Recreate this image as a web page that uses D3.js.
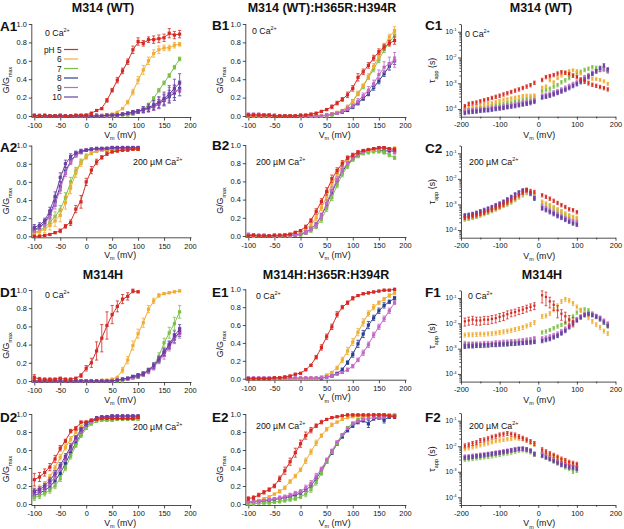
<!DOCTYPE html>
<html><head><meta charset="utf-8">
<script src="https://cdn.jsdelivr.net/npm/d3@7"></script>
<style>body{margin:0;background:#fff}svg{display:block}text{font-family:Arial,"Liberation Sans",Helvetica,sans-serif;fill:#111}</style>
</head><body><svg id="c" width="624" height="529"></svg>
<script>
// ---------- categories / labels ----------
const PH_LABELS = ["pH 5","6","7","8","9","10"];
const COLORS = ["#d42a23","#f0ad32","#7bbf46","#2b3f93","#c566c6","#6b3fa3"];
const GV_TICKS_X = [-100,-50,0,50,100,150,200];
const GV_TICKS_Y = [0,0.2,0.4,0.6,0.8,1.0];
const TAU_TICKS_X = [-200,-100,0,100,200];
const TAU_TICKS_Y = [1e-4,1e-3,1e-2,1e-1];
const TAU_TICK_EXP = ["-4","-3","-2","-1"];
const TITLES = ["M314 (WT)","M314 (WT):H365R:H394R","M314 (WT)","M314H","M314H:H365R:H394R","M314H"];
// voltage grids (mV)
const vLong = d3.range(-100,181,10);   // 29 steps
const vShort = d3.range(-100,101,10);  // 21 steps
const tLong = d3.range(-190,0,10).concat(d3.range(10,181,10));  // 37
const tShort = d3.range(-190,0,10).concat(d3.range(10,101,10)); // 29

// ---------- G/Gmax data, series order pH 5,6,7,8,9,10 ----------
const gvA1 = [
 [0,0,.01,0,0,.01,0,0,.01,.01,.01,.03,.06,.08,.17,.28,.39,.49,.59,.72,.81,.79,.83,.83,.84,.85,.90,.88,.89],
 [0,0,0,0,0,0,0,0,0,0,0,0,0,.01,.01,.02,.04,.08,.15,.26,.39,.50,.60,.68,.72,.74,.74,.77,.78],
 [0,0,0,0,0,0,0,0,0,0,0,0,0,0,0,0,0,.01,.01,.02,.04,.07,.12,.19,.28,.36,.44,.53,.62],
 [0,0,0,0,0,0,0,0,0,0,0,0,.01,0,.01,.01,.01,.02,.03,.04,.05,.07,.08,.10,.13,.17,.21,.25,.30],
 [0,.01,0,0,0,0,0,0,0,0,0,0,0,0,0,.01,.01,.02,.03,.04,.05,.06,.08,.11,.14,.18,.24,.27,.28],
 [.01,0,0,0,0,0,0,0,0,0,0,0,0,0,.01,.01,.01,.02,.03,.04,.05,.07,.09,.12,.15,.19,.24,.30,.36]];
const errA1 = [
 [0,0,0,0,0,0,0,0,0,0,.01,.01,.01,.01,.02,.02,.03,.03,.03,.04,.04,.03,.03,.04,.04,.04,.05,.04,.04],
 [0,0,0,0,0,0,0,0,0,0,0,0,0,0,0,.01,.01,.01,.02,.03,.04,.05,.04,.04,.04,.03,.03,.03,.02],
 [0,0,0,0,0,0,0,0,0,0,0,0,0,0,0,0,0,0,0,.01,.01,.01,.02,.02,.02,.02,.02,.02,.02],
 [0,0,0,0,0,0,0,0,0,0,0,0,0,0,0,0,.01,.01,.01,.02,.02,.03,.03,.04,.05,.06,.07,.08,.08],
 [0,0,0,0,0,0,0,0,0,0,0,0,0,0,0,0,.01,.01,.01,.02,.02,.03,.04,.05,.06,.06,.07,.07,.06],
 [0,0,0,0,0,0,0,0,0,0,0,0,0,0,0,0,.01,.01,.01,.02,.02,.03,.04,.05,.06,.07,.09,.10,.10]];
const gvA2 = [
 [0,0,.01,.02,.04,.06,.11,.15,.30,.38,.60,.73,.82,.87,.91,.93,.94,.95,.95,.96,.96],
 [.03,.05,.08,.12,.17,.23,.37,.53,.70,.81,.88,.92,.94,.95,.95,.96,.96,.96,.96,.96,.96],
 [.04,.06,.10,.15,.22,.29,.43,.60,.72,.82,.88,.92,.94,.95,.95,.95,.95,.95,.96,.96,.96],
 [.07,.10,.15,.24,.38,.55,.72,.83,.90,.93,.95,.96,.96,.96,.96,.97,.97,.97,.97,.97,.97],
 [.06,.09,.14,.22,.35,.52,.70,.82,.89,.93,.95,.96,.96,.96,.97,.97,.97,.97,.97,.97,.97],
 [.10,.12,.17,.28,.44,.65,.80,.88,.92,.94,.95,.96,.97,.97,.97,.98,.98,.98,.98,.98,.98]];
const errA2 = [
 [.01,.01,.01,.01,.01,.02,.02,.03,.04,.07,.04,.04,.03,.02,.02,.01,.01,.01,.01,.01,.01],
 [.02,.03,.04,.05,.06,.07,.07,.06,.05,.04,.03,.02,.01,.01,.01,.01,.01,.01,.01,.01,.01],
 [.02,.02,.03,.04,.05,.05,.05,.05,.04,.03,.02,.02,.01,.01,.01,.01,.01,.01,.01,.01,.01],
 [.02,.02,.03,.04,.05,.05,.04,.03,.02,.02,.01,.01,.01,.01,.01,.01,.01,.01,.01,.01,.01],
 [.02,.02,.03,.04,.05,.05,.04,.03,.02,.02,.01,.01,.01,.01,.01,.01,.01,.01,.01,.01,.01],
 [.03,.03,.03,.04,.05,.05,.04,.03,.02,.02,.01,.01,.01,.01,.01,.01,.01,.01,.01,.01,.01]];
const gvB1 = [
 [.01,.01,.01,.01,.01,0,0,0,0,0,.01,.01,.02,.03,.05,.07,.10,.14,.18,.23,.30,.42,.48,.55,.63,.70,.75,.79,.82],
 [0,0,0,0,0,0,0,0,0,0,0,0,0,0,0,.01,.02,.04,.06,.10,.16,.25,.33,.43,.54,.65,.76,.86,.93],
 [0,0,0,0,0,0,0,0,0,0,0,0,0,0,0,0,.01,.03,.05,.09,.16,.24,.32,.42,.51,.61,.72,.80,.88],
 [0,0,0,0,0,0,0,0,0,0,0,0,0,0,0,.01,.02,.03,.04,.06,.10,.14,.19,.24,.31,.38,.46,.54,.60],
 [.02,.02,.02,.01,.01,.01,0,0,0,0,0,0,0,0,0,.01,.02,.03,.05,.08,.11,.16,.22,.28,.35,.45,.53,.57,.61],
 null];
const errB1 = [
 [.01,.01,.01,.01,.01,.01,.01,.01,.01,.01,.01,.01,.01,.01,.01,.01,.02,.02,.02,.03,.03,.04,.03,.03,.03,.03,.03,.03,.04],
 [0,0,0,0,0,0,0,0,0,0,0,0,0,0,0,.01,.01,.01,.01,.02,.02,.02,.02,.03,.03,.03,.03,.03,.04],
 [0,0,0,0,0,0,0,0,0,0,0,0,0,0,0,0,.01,.01,.01,.02,.02,.02,.02,.02,.03,.03,.03,.03,.03],
 [0,0,0,0,0,0,0,0,0,0,0,0,0,0,0,.01,.01,.01,.01,.01,.02,.02,.02,.02,.03,.03,.03,.04,.04],
 [.01,.01,.01,.01,.01,.01,0,0,0,0,0,0,0,0,0,.01,.01,.01,.02,.02,.02,.03,.03,.04,.04,.05,.06,.07,.08],
 null];
const gvB2 = [
 [0,.01,0,0,0,.01,.01,.01,.02,.04,.06,.10,.17,.27,.38,.49,.63,.72,.80,.86,.89,.92,.94,.95,.96,.97,.97,.96,.95],
 [0,0,0,0,0,0,0,.01,.01,.02,.04,.07,.12,.20,.31,.43,.57,.68,.78,.84,.88,.91,.93,.94,.95,.96,.97,.96,.96],
 [0,0,0,0,0,0,0,0,0,.01,.01,.03,.06,.10,.18,.30,.42,.56,.68,.77,.84,.88,.91,.92,.93,.93,.92,.89,.86],
 [0,0,0,0,0,0,0,0,.01,.01,.02,.04,.08,.13,.22,.34,.48,.60,.71,.79,.85,.89,.92,.94,.95,.95,.93,.94,.93],
 [.02,.01,.01,.01,0,0,0,.01,.01,.01,.02,.04,.08,.12,.22,.36,.50,.62,.73,.80,.86,.90,.93,.95,.96,.97,.97,.95,.92],
 null];
const errB2a = [.01,.01,.01,.01,.01,.01,.01,.01,.01,.01,.01,.02,.02,.03,.03,.04,.04,.03,.03,.02,.02,.02,.01,.01,.01,.01,.01,.01,.02];
const errB2b = [.01,.01,.01,.01,.01,.01,.01,.01,.01,.01,.01,.01,.02,.02,.03,.03,.03,.03,.03,.03,.02,.02,.02,.02,.02,.02,.02,.02,.02];
const errB2 = [errB2a,errB2a,errB2b,errB2b,errB2a,null];
const gvD1 = [
 [.04,.02,.02,.02,.02,.03,.02,.02,.03,.06,.14,.20,.33,.47,.61,.73,.82,.90,.93,.99,.98,null,null,null,null,null,null,null,null],
 [0,0,0,0,0,0,0,0,0,0,0,0,0,.01,.01,.02,.04,.12,.23,.39,.52,.64,.79,.88,.94,.96,.97,.98,.99],
 [0,0,0,0,0,0,0,0,0,0,0,0,0,0,0,0,0,0,.02,.03,.04,.07,.12,.17,.27,.42,.53,.63,.76],
 [0,0,0,0,0,0,0,0,0,0,0,0,0,0,0,0,.01,.02,.03,.05,.06,.08,.11,.16,.23,.31,.39,.47,.54],
 [0,0,0,0,0,0,0,0,0,0,0,0,0,0,0,0,.01,.02,.02,.04,.05,.07,.10,.15,.22,.28,.37,.46,.52],
 [0,0,0,0,0,0,0,0,0,0,0,0,0,0,0,0,.01,.02,.03,.05,.06,.08,.12,.17,.24,.32,.40,.50,.57]];
const errD1b = [0,0,0,0,0,0,0,0,0,0,0,0,0,0,0,0,.01,.01,.01,.01,.02,.02,.02,.03,.03,.04,.04,.05,.05];
const errD1 = [
 [.03,.02,.01,.01,.01,.01,.01,.01,.01,.02,.03,.05,.10,.15,.15,.10,.06,.05,.04,.02,.01,null,null,null,null,null,null,null,null],
 [0,0,0,0,0,0,0,0,0,0,0,0,0,0,0,.01,.01,.03,.04,.05,.05,.05,.04,.03,.02,.01,.01,.01,.01],
 [0,0,0,0,0,0,0,0,0,0,0,0,0,0,0,0,0,0,.01,.01,.01,.02,.02,.03,.04,.05,.06,.07,.07],
 errD1b, errD1b, errD1b];
const gvD2 = [
 [.27,.30,.35,.41,.50,.62,.70,.81,.84,.91,.91,.93,.94,.95,.95,.95,.95,.95,.95,.95,.96],
 [.15,.18,.22,.30,.40,.52,.63,.72,.80,.86,.91,.93,.94,.95,.95,.95,.95,.95,.95,.95,.95],
 [.07,.09,.12,.15,.20,.28,.40,.53,.65,.76,.84,.89,.92,.93,.93,.93,.94,.94,.94,.94,.94],
 [.09,.12,.15,.19,.26,.34,.45,.57,.68,.78,.86,.91,.94,.96,.96,.97,.97,.97,.97,.97,.97],
 [.12,.14,.18,.23,.30,.40,.50,.62,.72,.81,.88,.92,.95,.96,.97,.97,.97,.97,.97,.97,.97],
 [.14,.16,.20,.26,.34,.43,.53,.64,.74,.83,.89,.93,.96,.97,.97,.98,.98,.98,.98,.98,.98]];
const errD2a = [.07,.05,.04,.04,.04,.03,.02,.02,.02,.01,.01,.01,.01,.01,.01,.01,.01,.01,.01,.01,.01];
const errD2b = [.03,.03,.03,.03,.03,.03,.03,.03,.02,.02,.01,.01,.01,.01,.01,.01,.01,.01,.01,.01,.01];
const errD2 = [errD2a,errD2b,errD2b,errD2b,errD2b,errD2b];
const gvE1 = [
 [0,0,0,0,0,.01,.01,.02,.03,.05,.06,.10,.15,.24,.35,.47,.58,.72,.80,.85,.90,.93,.95,.96,.97,.98,.99,.99,1.0],
 [0,0,0,0,0,0,0,0,0,0,0,0,0,0,.02,.04,.07,.12,.21,.31,.41,.52,.63,.73,.80,.85,.89,.93,.96],
 null,
 [0,0,0,0,0,0,0,0,0,0,0,0,0,0,0,.02,.03,.06,.10,.18,.27,.39,.50,.60,.68,.76,.82,.86,.90],
 [.01,.01,.01,.01,.01,.01,.01,.01,.01,.01,.01,.01,.01,.01,.01,.02,.03,.05,.07,.10,.14,.21,.29,.38,.49,.58,.67,.76,.85],
 null];
const errE1 = [
 [.01,.01,.01,.01,.01,.01,.01,.01,.01,.01,.01,.01,.01,.02,.03,.03,.03,.03,.02,.02,.02,.01,.01,.01,.01,.01,.01,.01,.01],
 [0,0,0,0,0,0,0,0,0,0,0,0,0,0,.01,.01,.01,.02,.03,.04,.04,.04,.04,.03,.03,.02,.02,.02,.02],
 null,
 [0,0,0,0,0,0,0,0,0,0,0,0,0,0,0,.01,.01,.01,.02,.02,.03,.04,.04,.04,.03,.03,.03,.02,.02],
 [.01,.01,.01,.01,.01,.01,.01,.01,.01,.01,.01,.01,.01,.01,.01,.01,.01,.01,.01,.02,.02,.02,.03,.03,.03,.03,.03,.03,.02],
 null];
const gvE2 = [
 [.06,.07,.10,.13,.16,.20,.28,.37,.47,.57,.67,.76,.82,.87,.91,.94,.96,.97,.98,.99,.99,.99,.99,.99,.99,.99,.99,.98,.97],
 [.02,.03,.04,.06,.08,.11,.14,.18,.25,.31,.38,.48,.58,.68,.76,.83,.88,.91,.94,.96,.97,.98,.98,.98,.98,.99,.99,.99,.99],
 [0,0,.01,.01,.01,.02,.03,.04,.05,.06,.08,.11,.16,.24,.34,.47,.58,.67,.77,.85,.90,.94,.97,.98,.99,.99,.99,.99,.99],
 [.02,.02,.03,.03,.04,.05,.06,.07,.08,.10,.12,.15,.20,.28,.37,.47,.57,.67,.75,.82,.87,.91,.93,.89,.95,.96,.93,.97,.97],
 [.02,.03,.03,.04,.05,.06,.07,.08,.10,.12,.14,.18,.23,.31,.39,.49,.59,.69,.77,.84,.89,.92,.94,.95,.96,.96,.97,.98,.98],
 null];
const errE2a = [.02,.02,.02,.02,.02,.02,.03,.04,.04,.05,.04,.04,.03,.02,.02,.01,.01,.01,.01,.01,.01,.01,.01,.01,.01,.01,.01,.01,.02];
const errE2b = [.01,.01,.01,.01,.01,.01,.02,.02,.02,.02,.02,.03,.03,.03,.02,.02,.02,.01,.01,.01,.01,.01,.01,.01,.01,.01,.01,.01,.01];
const errE2c = [.01,.01,.01,.01,.01,.01,.01,.01,.01,.01,.01,.01,.02,.02,.02,.02,.02,.02,.02,.02,.02,.02,.02,.04,.02,.02,.03,.02,.02];
const errE2 = [errE2a,errE2b,errE2b,errE2c,errE2b,null];

// ---------- tau_app data (ms) ----------
const tauC1 = [
 [0.13,0.16,0.17,0.18,0.20,0.22,0.24,0.27,0.30,0.33,0.37,0.41,0.46,0.52,0.58,0.66,0.75,0.85,1.05, 1.35,1.75,1.9,2.1,2.4,2.7,2.6,2.3,2.0,1.75,1.4,1.15,1.0,0.88,0.8,0.72,0.65,0.58],
 [0.11,0.12,0.12,0.13,0.14,0.15,0.16,0.17,0.19,0.21,0.23,0.24,0.26,0.28,0.30,0.32,0.33,0.33,0.34, 0.68,0.76,1.3,1.1,1.6,2.0,2.5,3.0,3.2,3.0,2.4,1.8,1.5,1.5,1.45,1.35,1.2,0.95],
 [0.09,0.09,0.10,0.10,0.11,0.11,0.12,0.13,0.14,0.15,0.16,0.17,0.18,0.20,0.21,0.23,0.24,0.26,0.28, 0.50,0.55,0.62,0.75,0.85,1.1,1.3,1.6,2.0,2.5,2.8,3.3,3.7,4.2,4.0,3.8,3.4,3.0],
 [0.075,0.08,0.08,0.085,0.09,0.09,0.095,0.10,0.105,0.11,0.115,0.12,0.13,0.14,0.15,0.16,0.17,0.19,0.21, 0.30,0.32,0.35,0.40,0.45,0.52,0.60,0.72,0.85,1.0,1.2,1.5,1.9,2.4,2.9,3.3,3.8,3.2],
 [0.085,0.09,0.09,0.095,0.10,0.10,0.105,0.11,0.115,0.12,0.13,0.14,0.145,0.155,0.165,0.18,0.19,0.20,0.22, 0.33,0.36,0.40,0.45,0.50,0.58,0.68,0.80,0.95,1.15,1.4,1.7,2.1,2.6,3.0,3.4,3.6,2.9],
 [0.07,0.075,0.08,0.08,0.085,0.09,0.09,0.095,0.10,0.105,0.11,0.12,0.125,0.13,0.14,0.15,0.16,0.17,0.19, 0.28,0.30,0.33,0.37,0.42,0.48,0.55,0.65,0.78,0.92,1.1,1.4,1.8,2.3,3.0,4.0,5.0,3.5]];
const tauC2 = [
 [0.30,0.32,0.35,0.38,0.43,0.48,0.55,0.63,0.73,0.85,1.0,1.2,1.45,1.8,2.3,2.9,3.6,3.4,3.1, 2.3,2.0,1.7,1.4,1.15,0.95,0.8,0.65,0.6,0.5],
 [0.28,0.30,0.32,0.36,0.40,0.46,0.52,0.60,0.70,0.82,0.95,1.1,1.35,1.7,2.1,2.6,3.0,2.9,2.5, 1.3,1.1,0.95,0.8,0.65,0.55,0.45,0.38,0.33,0.3],
 [0.26,0.28,0.30,0.33,0.37,0.42,0.48,0.55,0.64,0.75,0.88,1.0,1.2,1.5,1.9,2.3,2.8,2.6,2.2, 1.15,1.0,0.85,0.7,0.58,0.48,0.40,0.34,0.30,0.27],
 [0.35,0.37,0.40,0.44,0.50,0.56,0.64,0.74,0.86,1.0,1.2,1.5,1.8,2.3,2.8,3.3,3.5,2.6,1.7, 0.75,0.65,0.55,0.46,0.38,0.32,0.27,0.23,0.2,0.18],
 [0.36,0.38,0.41,0.45,0.51,0.58,0.66,0.76,0.88,1.0,1.25,1.5,1.9,2.4,2.9,3.4,3.6,2.7,1.8, 0.85,0.72,0.62,0.52,0.43,0.36,0.3,0.26,0.22,0.2],
 [0.38,0.40,0.43,0.48,0.55,0.62,0.70,0.80,0.95,1.1,1.3,1.6,2.0,2.5,3.0,3.6,3.8,2.8,1.8, 0.7,0.6,0.5,0.42,0.35,0.3,0.25,0.21,0.18,0.16]];
const tauF1 = [
 [12,13,14,13,13,14,14,15,16,18,20,23,26,28,32,35,40,45,50, 128,110,74,54,33,24,19,14,12,null,null,null,null,null,null,null,null,null],
 [3.5,3.6,3.6,3.7,3.8,3.8,3.9,4.0,4.2,4.4,4.7,5.0,5.4,5.8,6.3,7.0,8.0,9.0,11, 19,20,25,35,50,74,90,80,62,45,33,24,17,12,9,7,5,4],
 [1.7,1.6,1.5,1.5,1.4,1.3,1.4,1.5,1.5,1.6,1.6,1.7,1.8,1.8,1.9,2.0,2.0,2.1,2.3, 4.4,4.8,5.5,6.5,7.6,8.8,10.5,14,19,27,34,36,33,25,19,14,10.5,7.6],
 [1.2,1.25,1.25,1.3,1.3,1.3,1.35,1.4,1.4,1.45,1.5,1.5,1.55,1.6,1.65,1.7,1.75,1.8,1.9, 2.2,2.4,2.6,3.0,3.4,4.3,5.5,7.6,10.5,14,18,22,24,22,19,16,12,9],
 [1.5,1.5,1.6,1.6,1.6,1.7,1.7,1.7,1.8,1.8,1.9,1.9,2.0,2.0,2.1,2.2,2.3,2.4,2.6, 2.6,2.8,3.1,3.5,4.0,5.0,6.3,8.5,11.5,15,19,23,25,23,20,17,13,10],
 [1.3,1.3,1.3,1.35,1.35,1.4,1.4,1.45,1.45,1.5,1.5,1.55,1.6,1.6,1.65,1.7,1.75,1.8,1.85, 2.0,2.2,2.4,2.8,3.2,4.0,5.0,7.0,9.5,13,17,21,23,21,18,15,11,8]];
const tauF2 = [
 [10.5,11.5,13,14,17,18,20,23,25,28,30,32,30,28,24,21,18,15.5,13, 7.4,6.2,5.2,4.5,3.8,3.2,2.8,2.4,2.2,2.0],
 [7.8,8.5,9.2,10,11,12,13,14.5,16,17,18,19,20,21,20,19,17,14,11.5, 6.5,5.5,4.7,4.0,3.4,2.9,2.5,2.2,2.0,1.8],
 [3.0,3.1,3.2,3.4,3.5,3.7,3.9,4.1,4.4,4.7,5.0,5.3,5.7,6.2,6.8,7.0,6.5,5.8,4.7, 4.8,4.0,3.3,2.7,2.2,1.8,1.5,1.3,1.0,1.1],
 [3.5,3.6,3.8,4.0,4.2,4.4,4.6,4.9,5.2,5.5,5.9,6.3,6.8,7.3,7.8,7.8,7.3,6.5,4.8, 4.5,3.9,3.3,2.8,2.4,2.1,1.8,1.6,1.5,1.4],
 [4.0,4.1,4.3,4.5,4.7,4.9,5.1,5.4,5.7,6.0,6.4,6.8,7.2,7.6,8.0,8.0,7.6,6.8,5.2, 5.0,4.3,3.6,3.0,2.6,2.2,1.9,1.7,1.6,1.5],
 [3.6,3.7,3.9,4.1,4.3,4.5,4.8,5.0,5.3,5.6,6.0,6.4,6.9,7.4,7.9,8.2,7.6,6.8,5.0, 4.2,3.6,3.1,2.6,2.2,1.9,1.7,1.5,1.4,1.3]];
// relative errors (fraction of value)
const tErrC1 = [.15,.13,.15,.15,.15,.15];
const tErrC2 = [.15,.15,.15,.15,.15,.15];
const tErrF1 = [[.35,.35,.35,.35,.35,.35,.35,.35,.35,.35,.35,.35,.3,.3,.3,.3,.3,.3,.3, .5,.55,.45,.4,.5,.45,.45,.45,.4,0,0,0,0,0,0,0,0,0],.18,.15,.15,.15,.15];
const tErrF2 = [.18,.15,.15,.15,.15,.15];

// ---------- layout ----------
const svg = d3.select("#c");
const FONT = "Arial, 'Liberation Sans', Helvetica, sans-serif";
const DRAW_ORDER = [3,2,1,4,5,0];
const colA=[34.3,190], colB=[248.3,405], colC=[461,615.5];

function rich(g,x,y,parts,size,anchor,rot){
  const t=g.append("text").attr("font-size",size).attr("text-anchor",anchor||"start");
  if(rot!=null) t.attr("transform",`translate(${x},${y}) rotate(${rot})`); else t.attr("x",x).attr("y",y);
  let shift=0;
  parts.forEach(p=>{
    const s=p.sup?-size*0.42:(p.sub?size*0.3:0);
    t.append("tspan").attr("dy",s-shift).attr("font-size",(p.sup||p.sub)?size*0.62:size).text(p.t);
    shift=s;
  });
  return t;
}
function caLabel(g,x,y,zero){
  rich(g,x,y,zero?[{t:"0 Ca"},{t:"2+",sup:true}]:[{t:"200 µM Ca"},{t:"2+",sup:true}],8.8,"start");
}
function styleAxis(a,fs){
  a.attr("font-family",FONT).attr("font-size",fs);
  a.selectAll("line,path").attr("stroke","#222").attr("stroke-width",0.8);
  a.selectAll("text").attr("fill","#111");
}
function vmLabel(g,cx,y){ rich(g,cx,y,[{t:"V"},{t:"m",sub:true},{t:" (mV)"}],8.8,"middle"); }

function gvPanel(p){
  const g=svg.append("g");
  const x=d3.scaleLinear().domain([-100,200]).range(p.xr);
  const y=d3.scaleLinear().domain([0,1]).range([p.yr[1],p.yr[0]]);
  const ax=p.xr[0]-2.5, ay=p.yr[1]+1.5;
  const xa=g.append("g").attr("transform",`translate(0,${ay})`)
    .call(d3.axisBottom(x).tickValues(GV_TICKS_X).tickSize(3).tickPadding(2.5).tickFormat(d=>String(d)));
  xa.select(".domain").remove(); styleAxis(xa,7.4);
  const ya=g.append("g").attr("transform",`translate(${ax},0)`)
    .call(d3.axisLeft(y).tickValues(GV_TICKS_Y).tickSize(3).tickPadding(2).tickFormat(d3.format(".1f")));
  ya.select(".domain").remove(); styleAxis(ya,7.4);
  g.append("path").attr("d",`M${ax},${y(1)}V${ay}H${p.xr[1]+1.5}`).attr("fill","none").attr("stroke","#222").attr("stroke-width",0.8);
  vmLabel(g,(p.xr[0]+p.xr[1])/2+8,ay+20);
  rich(g,p.ylx,(p.yr[0]+p.yr[1])/2+10,[{t:"G/G"},{t:"max",sub:true}],8.8,"middle",-90);
  DRAW_ORDER.forEach(si=>{
    const vals=p.data[si]; if(!vals) return;
    const errs=(p.err&&p.err[si])||[];
    const pts=p.v.map((v,i)=>({v,g:vals[i],e:errs[i]||0})).filter(d=>d.g!=null);
    const c=COLORS[si];
    g.append("path").datum(pts).attr("fill","none").attr("stroke",c).attr("stroke-width",1)
      .attr("d",d3.line().x(d=>x(d.v)).y(d=>y(d.g)).curve(d3.curveBasis));
    const eb=pts.filter(d=>d.e>0);
    g.selectAll(null).data(eb).enter().append("path").attr("fill","none").attr("stroke",c).attr("stroke-width",0.8)
      .attr("d",d=>{const X=x(d.v),y1=y(d.g-d.e),y2=y(d.g+d.e);return `M${X},${y1}V${y2}M${X-1.6},${y1}H${X+1.6}M${X-1.6},${y2}H${X+1.6}`;});
    g.selectAll(null).data(pts).enter().append("rect").attr("fill",c)
      .attr("x",d=>x(d.v)-1.6).attr("y",d=>y(d.g)-1.6).attr("width",3.2).attr("height",3.2);
  });
  caLabel(g,p.ca[0],p.ca[1],p.zero);
}

function tauPanel(p){
  const g=svg.append("g");
  const x=d3.scaleLinear().domain([-200,200]).range(p.xr);
  const y=d3.scaleLog().domain([5e-5,0.2]).range([p.yr[1],p.yr[0]]);
  const ax=p.xr[0], ay=p.yr[1];
  const xa=g.append("g").attr("transform",`translate(0,${ay})`)
    .call(d3.axisBottom(x).tickValues(TAU_TICKS_X).tickSize(3).tickSizeOuter(0).tickPadding(2.5).tickFormat(d=>String(d)));
  styleAxis(xa,7.4);
  const xm=g.append("g").attr("transform",`translate(0,${ay})`)
    .call(d3.axisBottom(x).tickValues([-150,-50,50,150]).tickSize(1.8).tickFormat(""));
  xm.select(".domain").remove(); styleAxis(xm,7);
  const ya=g.append("g").attr("transform",`translate(${ax},0)`)
    .call(d3.axisLeft(y).tickValues(TAU_TICKS_Y).tickSize(3).tickSizeOuter(0).tickFormat(""));
  styleAxis(ya,7);
  const minors=[]; for(let d=-5;d<=-1;d++) for(let m=2;m<=9;m++){const v=m*Math.pow(10,d); if(v>=5e-5&&v<=0.2) minors.push(v);}
  const ym=g.append("g").attr("transform",`translate(${ax},0)`)
    .call(d3.axisLeft(y).tickValues(minors).tickSize(1.6).tickFormat(""));
  ym.select(".domain").remove(); styleAxis(ym,7);
  TAU_TICKS_Y.forEach((t,i)=>rich(g,ax-4.5,y(t)+2.3,[{t:"10"},{t:TAU_TICK_EXP[i],sup:true}],6.6,"end"));
  vmLabel(g,(p.xr[0]+p.xr[1])/2+1,ay+21);
  rich(g,435,(p.yr[0]+p.yr[1])/2,[{t:"τ"},{t:"app",sub:true},{t:" (s)"}],8.8,"middle",-90);
  DRAW_ORDER.forEach(si=>{
    const vals=p.data[si]; if(!vals) return;
    const ef=p.err[si];
    const pts=p.v.map((v,i)=>({v,t:vals[i]==null?null:vals[i]/1000,f:Array.isArray(ef)?ef[i]:ef})).filter(d=>d.t!=null);
    const c=COLORS[si];
    g.selectAll(null).data(pts).enter().append("path").attr("fill","none").attr("stroke",c).attr("stroke-width",0.8)
      .attr("d",d=>{const X=x(d.v),y1=y(d.t*(1-d.f)),y2=y(d.t*(1+d.f));return `M${X},${y1}V${y2}M${X-1.3},${y1}H${X+1.3}M${X-1.3},${y2}H${X+1.3}`;});
    g.selectAll(null).data(pts).enter().append("rect").attr("fill",c)
      .attr("x",d=>x(d.v)-1.1).attr("y",d=>y(d.t)-1.1).attr("width",2.2).attr("height",2.2);
  });
  caLabel(g,p.ca[0],p.ca[1],p.zero);
}

const PANELS=[
 {type:"gv",id:"A1",xr:colA,yr:[24,116],v:vLong,data:gvA1,err:errA1,zero:true,ca:[45,36],lab:[0,30.5],ylx:9},
 {type:"gv",id:"A2",xr:colA,yr:[145.6,236.3],v:vShort,data:gvA2,err:errA2,zero:false,ca:[133,165],lab:[0,151.5],ylx:9},
 {type:"gv",id:"B1",xr:colB,yr:[24,116],v:vLong,data:gvB1,err:errB1,zero:true,ca:[252,33.5],lab:[212,30],ylx:223},
 {type:"gv",id:"B2",xr:colB,yr:[145,236],v:vLong,data:gvB2,err:errB2,zero:false,ca:[256,165],lab:[212,150],ylx:223},
 {type:"tau",id:"C1",xr:colC,yr:[24,116.7],v:tLong,data:tauC1,err:tErrC1,zero:true,ca:[465,36.5],lab:[425,29.5]},
 {type:"tau",id:"C2",xr:colC,yr:[145.6,237.7],v:tShort,data:tauC2,err:tErrC2,zero:false,ca:[469,165],lab:[425,153]},
 {type:"gv",id:"D1",xr:colA,yr:[290,381],v:vLong,data:gvD1,err:errD1,zero:true,ca:[45,298],lab:[0,297],ylx:9},
 {type:"gv",id:"D2",xr:colA,yr:[414,504],v:vShort,data:gvD2,err:errD2,zero:false,ca:[133,430],lab:[0,421.5],ylx:9},
 {type:"gv",id:"E1",xr:colB,yr:[289.3,378.7],v:vLong,data:gvE1,err:errE1,zero:true,ca:[256,299],lab:[212,297],ylx:223},
 {type:"gv",id:"E2",xr:colB,yr:[414,504],v:vLong,data:gvE2,err:errE2,zero:false,ca:[256,429],lab:[212,421.5],ylx:223},
 {type:"tau",id:"F1",xr:colC,yr:[290.4,381.6],v:tLong,data:tauF1,err:tErrF1,zero:true,ca:[468,299],lab:[425,297]},
 {type:"tau",id:"F2",xr:colC,yr:[413,505],v:tShort,data:tauF2,err:tErrF2,zero:false,ca:[469,429],lab:[425,421.5]}
];
PANELS.forEach(p=>{
  if(p.type==="gv") gvPanel(p); else tauPanel(p);
  svg.append("text").attr("x",p.lab[0]).attr("y",p.lab[1]).attr("font-size",13.5).attr("font-weight","bold").text(p.id);
});

// titles
const TITLE_POS=[[103,11.5],[322,11.5],[541,11.5],[103,278.5],[326,278.5],[542,278.5]];
TITLES.forEach((t,i)=>svg.append("text").attr("x",TITLE_POS[i][0]).attr("y",TITLE_POS[i][1])
  .attr("text-anchor","middle").attr("font-size",12.5).attr("font-weight","bold").text(t));

// legend (panel A1)
const lg=svg.append("g");
PH_LABELS.forEach((l,i)=>{
  const yy=49.5+i*9.5;
  lg.append("text").attr("x",61.5).attr("y",yy+3).attr("text-anchor","end").attr("font-size",8.3).text(l);
  lg.append("line").attr("x1",64).attr("x2",78).attr("y1",yy).attr("y2",yy).attr("stroke",COLORS[i]).attr("stroke-width",1.2);
});
</script></body></html>
